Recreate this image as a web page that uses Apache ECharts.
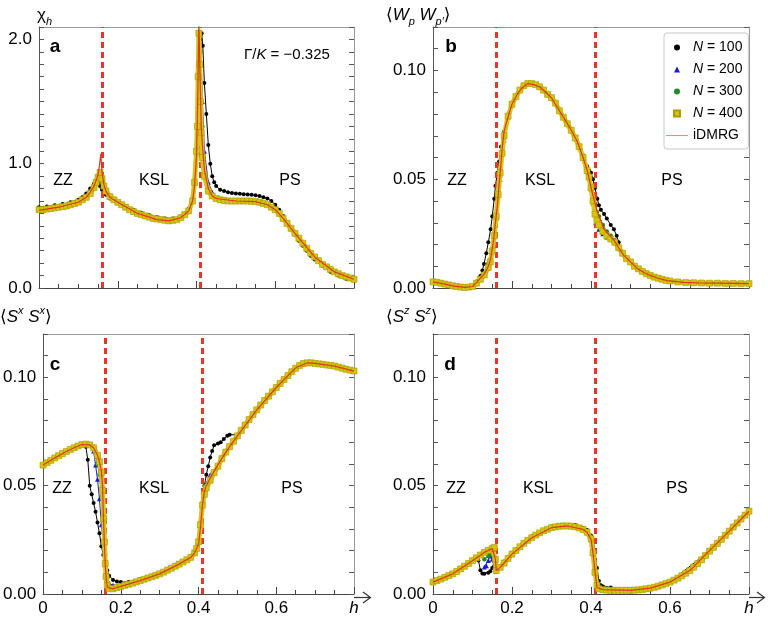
<!DOCTYPE html>
<html><head><meta charset="utf-8">
<script src="https://cdn.jsdelivr.net/npm/echarts@6/dist/echarts.min.js"></script>
<style>html,body{margin:0;padding:0;background:#fff}#c{width:768px;height:617px}</style>
</head><body><div id="c"></div>
<script>
const FONT = '"Liberation Sans", Arial, "DejaVu Sans", sans-serif';

// ---------- Panel a : chi_h ----------
const chiIdmrg = [[0,0.625],[0.05,0.65],[0.1,0.69],[0.12,0.73],[0.13,0.77],[0.14,0.82],[0.15,0.91],[0.154,1.0],[0.157,1.08],[0.16,0.93],[0.165,0.83],[0.17,0.78],[0.18,0.73],[0.2,0.69],[0.25,0.6],[0.3,0.55],[0.33,0.54],[0.36,0.565],[0.38,0.62],[0.39,0.7],[0.395,0.82],[0.4,1.06],[0.403,1.5],[0.406,2.15],[0.409,1.7],[0.412,1.3],[0.415,1.15],[0.42,0.95],[0.43,0.8],[0.44,0.74],[0.45,0.72],[0.5,0.7],[0.55,0.695],[0.58,0.67],[0.6,0.63],[0.62,0.56],[0.65,0.44],[0.7,0.25],[0.75,0.13],[0.8,0.07]];
const chiN400 = [[0,0.63],[0.01,0.63],[0.02,0.635],[0.03,0.64],[0.04,0.645],[0.05,0.65],[0.06,0.655],[0.07,0.66],[0.08,0.67],[0.09,0.68],[0.1,0.69],[0.11,0.71],[0.12,0.73],[0.13,0.76],[0.14,0.81],[0.145,0.85],[0.15,0.89],[0.155,0.93],[0.16,0.88],[0.165,0.82],[0.17,0.78],[0.18,0.735],[0.19,0.71],[0.2,0.69],[0.21,0.67],[0.22,0.65],[0.23,0.63],[0.24,0.615],[0.25,0.6],[0.26,0.59],[0.27,0.58],[0.28,0.57],[0.29,0.56],[0.3,0.555],[0.31,0.55],[0.32,0.545],[0.33,0.54],[0.34,0.545],[0.35,0.55],[0.36,0.565],[0.37,0.59],[0.38,0.62],[0.39,0.7],[0.395,0.85],[0.4,1.1],[0.402,1.3],[0.404,1.7],[0.406,2.05],[0.408,1.8],[0.41,1.5],[0.412,1.25],[0.415,1.05],[0.42,0.9],[0.43,0.78],[0.44,0.74],[0.45,0.72],[0.46,0.71],[0.47,0.705],[0.48,0.7],[0.49,0.7],[0.5,0.7],[0.51,0.7],[0.52,0.7],[0.53,0.7],[0.54,0.698],[0.55,0.695],[0.56,0.69],[0.57,0.68],[0.58,0.67],[0.59,0.65],[0.6,0.63],[0.61,0.6],[0.62,0.56],[0.63,0.52],[0.64,0.48],[0.65,0.44],[0.66,0.4],[0.67,0.36],[0.68,0.32],[0.69,0.28],[0.7,0.25],[0.71,0.22],[0.72,0.19],[0.73,0.17],[0.74,0.15],[0.75,0.13],[0.76,0.115],[0.77,0.1],[0.78,0.09],[0.79,0.08],[0.8,0.07]];
const chiN100 = [[0,0.65],[0.02,0.655],[0.04,0.665],[0.06,0.675],[0.08,0.69],[0.1,0.71],[0.11,0.73],[0.12,0.76],[0.13,0.8],[0.14,0.84],[0.145,0.86],[0.15,0.85],[0.155,0.82],[0.16,0.79],[0.17,0.75],[0.18,0.72],[0.2,0.69],[0.22,0.66],[0.24,0.63],[0.26,0.605],[0.28,0.585],[0.3,0.57],[0.32,0.56],[0.34,0.56],[0.36,0.575],[0.37,0.6],[0.38,0.64],[0.39,0.72],[0.395,0.85],[0.4,1.1],[0.405,1.5],[0.41,2.0],[0.413,2.05],[0.416,1.95],[0.42,1.65],[0.425,1.4],[0.43,1.15],[0.435,1.0],[0.44,0.9],[0.445,0.85],[0.45,0.82],[0.46,0.79],[0.47,0.78],[0.48,0.77],[0.49,0.765],[0.5,0.76],[0.51,0.758],[0.52,0.755],[0.53,0.752],[0.54,0.75],[0.55,0.746],[0.56,0.74],[0.57,0.73],[0.58,0.72],[0.59,0.7],[0.6,0.67],[0.61,0.63],[0.62,0.58],[0.63,0.53],[0.64,0.48],[0.65,0.43],[0.66,0.38],[0.67,0.34],[0.68,0.3],[0.69,0.26],[0.7,0.23],[0.72,0.18],[0.74,0.13],[0.76,0.1],[0.78,0.075],[0.8,0.06]];
const chiN200 = [[0.13,0.78],[0.14,0.83],[0.15,0.88],[0.155,0.87],[0.16,0.82],[0.17,0.77],['-','-'],[0.39,0.71],[0.4,1.1],[0.405,1.7],[0.41,2.05],[0.415,1.5],[0.42,1.1],[0.43,0.85],[0.44,0.77]];
const chiN300 = [[0.13,0.77],[0.14,0.82],[0.15,0.9],[0.155,0.9],[0.16,0.85],[0.17,0.78],['-','-'],[0.39,0.7],[0.4,1.1],[0.405,1.9],[0.41,1.9],[0.415,1.3],[0.42,0.95],[0.43,0.8],[0.44,0.75]];

// ---------- Panel b : <W_p W_p'> ----------
const wIdmrg = [[0,0.0028],[0.03,0.0018],[0.05,0.001],[0.08,0.0003],[0.1,0.0007],[0.11,0.0025],[0.12,0.0045],[0.13,0.0065],[0.14,0.01],[0.146,0.0134],[0.154,0.0227],[0.158,0.03],[0.163,0.038],[0.167,0.047],[0.171,0.055],[0.175,0.064],[0.18,0.072],[0.192,0.08],[0.2,0.0845],[0.213,0.089],[0.225,0.092],[0.24,0.094],[0.255,0.0935],[0.27,0.0925],[0.285,0.09],[0.3,0.0875],[0.315,0.083],[0.332,0.078],[0.35,0.0725],[0.365,0.0675],[0.38,0.06],[0.391,0.0536],[0.403,0.044],[0.41,0.039],[0.416,0.035],[0.425,0.031],[0.433,0.027],[0.445,0.0245],[0.458,0.022],[0.47,0.0185],[0.483,0.015],[0.5,0.012],[0.517,0.009],[0.535,0.007],[0.551,0.0057],[0.57,0.0045],[0.593,0.0034],[0.635,0.0026],[0.68,0.0023],[0.72,0.0022],[0.8,0.002]];
const wN400 = [[0,0.0028],[0.01,0.0026],[0.02,0.0022],[0.03,0.0018],[0.04,0.0014],[0.05,0.001],[0.06,0.0007],[0.07,0.0004],[0.08,0.0003],[0.09,0.0004],[0.1,0.0007],[0.11,0.0022],[0.12,0.004],[0.13,0.006],[0.14,0.0095],[0.145,0.012],[0.15,0.017],[0.155,0.024],[0.16,0.033],[0.165,0.043],[0.17,0.053],[0.175,0.062],[0.18,0.07],[0.19,0.079],[0.2,0.0845],[0.21,0.088],[0.22,0.091],[0.23,0.093],[0.24,0.094],[0.25,0.094],[0.26,0.0935],[0.27,0.0925],[0.28,0.091],[0.29,0.089],[0.3,0.0875],[0.31,0.085],[0.32,0.0815],[0.33,0.0785],[0.34,0.0755],[0.35,0.0725],[0.36,0.069],[0.37,0.065],[0.38,0.06],[0.39,0.054],[0.395,0.051],[0.4,0.046],[0.405,0.04],[0.41,0.034],[0.415,0.031],[0.42,0.029],[0.43,0.026],[0.44,0.024],[0.45,0.0225],[0.46,0.021],[0.47,0.0185],[0.48,0.016],[0.49,0.0135],[0.5,0.012],[0.51,0.01],[0.52,0.0088],[0.53,0.0076],[0.54,0.0066],[0.55,0.0058],[0.56,0.005],[0.57,0.0045],[0.58,0.004],[0.59,0.0035],[0.6,0.0032],[0.62,0.0028],[0.64,0.0025],[0.66,0.0024],[0.68,0.0023],[0.7,0.0022],[0.72,0.0022],[0.74,0.0021],[0.76,0.0021],[0.78,0.002],[0.8,0.002]];
const wN100 = [[0,0.0028],[0.04,0.0014],[0.08,0.0003],[0.1,0.001],[0.11,0.003],[0.12,0.0055],[0.125,0.008],[0.129,0.011],[0.135,0.016],[0.14,0.021],[0.146,0.027],[0.15,0.033],[0.155,0.041],[0.158,0.047],[0.163,0.053],[0.167,0.058],[0.172,0.065],[0.18,0.072],[0.19,0.079],[0.2,0.0845],[0.22,0.091],[0.24,0.094],[0.26,0.0935],[0.28,0.091],[0.3,0.0875],[0.32,0.0818],[0.34,0.0758],[0.36,0.0692],[0.38,0.061],[0.39,0.056],[0.395,0.054],[0.4,0.053],[0.405,0.05],[0.41,0.046],[0.416,0.041],[0.42,0.038],[0.425,0.036],[0.433,0.034],[0.44,0.032],[0.45,0.029],[0.458,0.027],[0.465,0.024],[0.47,0.021],[0.48,0.0165],[0.5,0.0118],[0.52,0.0086],[0.54,0.0065],[0.56,0.005],[0.6,0.0031],[0.65,0.0025],[0.7,0.0022],[0.8,0.002]];
const wN200 = [[0.14,0.012],[0.15,0.019],[0.16,0.032],[0.17,0.05],[0.18,0.068],['-','-'],[0.39,0.054],[0.4,0.047],[0.405,0.039],[0.408,0.036],[0.412,0.03],[0.42,0.027],[0.43,0.025],[0.44,0.0235],[0.45,0.0225],[0.46,0.021]];
const wN300 = [[0.14,0.011],[0.15,0.018],[0.16,0.032],[0.17,0.051],[0.18,0.069],['-','-'],[0.39,0.054],[0.4,0.047],[0.405,0.041],[0.41,0.038],[0.415,0.035],[0.42,0.033],[0.43,0.029],[0.44,0.026],[0.45,0.024],[0.46,0.022]];

// ---------- Panel c : <S^x S^x> ----------
const sxIdmrg = [[0,0.0595],[0.02,0.0617],[0.04,0.0638],[0.06,0.0658],[0.08,0.0675],[0.1,0.069],[0.12,0.0688],[0.13,0.0675],[0.14,0.064],[0.145,0.061],[0.15,0.0566],[0.153,0.05],[0.155,0.0367],[0.158,0.022],[0.16,0.0138],[0.163,0.006],[0.166,0.003],[0.17,0.0025],[0.18,0.0024],[0.2,0.0035],[0.25,0.0062],[0.3,0.0093],[0.35,0.0138],[0.38,0.0169],[0.39,0.019],[0.4,0.023],[0.405,0.0306],[0.41,0.041],[0.415,0.0474],[0.42,0.05],[0.43,0.0535],[0.44,0.0566],[0.46,0.0626],[0.48,0.068],[0.5,0.073],[0.55,0.085],[0.6,0.0953],[0.65,0.1044],[0.68,0.1067],[0.7,0.1064],[0.75,0.1052],[0.8,0.1029]];
const sxN400 = [[0,0.0595],[0.01,0.0606],[0.02,0.0617],[0.03,0.0628],[0.04,0.0638],[0.05,0.0648],[0.06,0.0658],[0.07,0.0667],[0.08,0.0675],[0.09,0.0683],[0.1,0.069],[0.11,0.0692],[0.12,0.0688],[0.13,0.0675],[0.14,0.064],[0.145,0.061],[0.15,0.056],[0.153,0.048],[0.156,0.035],[0.158,0.024],[0.16,0.014],[0.162,0.008],[0.165,0.004],[0.17,0.0025],[0.18,0.0024],[0.19,0.003],[0.2,0.0035],[0.21,0.004],[0.22,0.0045],[0.23,0.005],[0.24,0.0056],[0.25,0.0062],[0.26,0.0068],[0.27,0.0074],[0.28,0.008],[0.29,0.0086],[0.3,0.0093],[0.31,0.0101],[0.32,0.011],[0.33,0.0119],[0.34,0.0128],[0.35,0.0138],[0.36,0.0148],[0.37,0.0158],[0.38,0.0169],[0.39,0.019],[0.395,0.021],[0.4,0.024],[0.405,0.032],[0.41,0.041],[0.415,0.046],[0.42,0.049],[0.43,0.0525],[0.44,0.056],[0.45,0.059],[0.46,0.0625],[0.47,0.0655],[0.48,0.068],[0.49,0.0705],[0.5,0.073],[0.51,0.0755],[0.52,0.078],[0.53,0.0805],[0.54,0.0828],[0.55,0.085],[0.56,0.0872],[0.57,0.0893],[0.58,0.0913],[0.59,0.0933],[0.6,0.0953],[0.61,0.0972],[0.62,0.099],[0.63,0.1008],[0.64,0.1026],[0.65,0.1042],[0.66,0.1055],[0.67,0.1064],[0.68,0.1067],[0.69,0.1067],[0.7,0.1064],[0.71,0.1062],[0.72,0.106],[0.73,0.1057],[0.74,0.1055],[0.75,0.1052],[0.76,0.1047],[0.77,0.1042],[0.78,0.1037],[0.79,0.1033],[0.8,0.1029]];
const sxN100 = [[0,0.0595],[0.04,0.0638],[0.08,0.0675],[0.1,0.069],[0.11,0.068],[0.115,0.062],[0.12,0.05],[0.125,0.046],[0.13,0.042],[0.135,0.038],[0.14,0.033],[0.145,0.028],[0.15,0.022],[0.155,0.018],[0.16,0.0145],[0.165,0.011],[0.17,0.0084],[0.18,0.0065],[0.19,0.0058],[0.2,0.0055],[0.22,0.0055],[0.25,0.0068],[0.3,0.0097],[0.35,0.0142],[0.38,0.0175],[0.39,0.0195],[0.4,0.024],[0.405,0.032],[0.41,0.042],[0.415,0.05],[0.42,0.055],[0.425,0.059],[0.43,0.063],[0.435,0.066],[0.44,0.0686],[0.45,0.0695],[0.457,0.07],[0.465,0.0715],[0.474,0.073],[0.48,0.0735],[0.5,0.0735],[0.55,0.085],[0.6,0.0953],[0.65,0.1044],[0.7,0.1064],[0.75,0.1052],[0.8,0.1029]];
const sxN200 = [[0.12,0.0685],[0.13,0.066],[0.135,0.0595],[0.14,0.053],[0.145,0.044],[0.15,0.032],[0.155,0.023],[0.16,0.0135],[0.165,0.0084],[0.17,0.005],[0.18,0.004],[0.2,0.004],['-','-'],[0.39,0.019],[0.4,0.024],[0.405,0.033],[0.41,0.042],[0.415,0.048],[0.42,0.051],[0.43,0.055]];
const sxN300 = [[0.12,0.0687],[0.13,0.067],[0.14,0.06],[0.145,0.055],[0.15,0.045],[0.155,0.033],[0.16,0.018],[0.165,0.008],[0.17,0.004],[0.18,0.003],['-','-'],[0.39,0.019],[0.4,0.024],[0.405,0.032],[0.41,0.041],[0.415,0.047],[0.42,0.05],[0.43,0.053]];

// ---------- Panel d : <S^z S^z> ----------
const szIdmrg = [[0,0.0055],[0.05,0.0093],[0.1,0.0154],[0.13,0.0192],[0.15,0.021],[0.155,0.0215],[0.158,0.016],[0.16,0.0108],[0.17,0.0123],[0.18,0.0143],[0.2,0.0184],[0.25,0.026],[0.3,0.0306],[0.34,0.0314],[0.38,0.0298],[0.39,0.0285],[0.4,0.0253],[0.405,0.019],[0.41,0.011],[0.415,0.003],[0.43,0.002],[0.5,0.0017],[0.55,0.0027],[0.6,0.0055],[0.65,0.0108],[0.7,0.02],[0.75,0.029],[0.8,0.0382]];
const szN400 = [[0,0.0055],[0.01,0.0062],[0.02,0.0069],[0.03,0.0077],[0.04,0.0085],[0.05,0.0093],[0.06,0.0104],[0.07,0.0116],[0.08,0.0128],[0.09,0.0141],[0.1,0.0154],[0.11,0.0167],[0.12,0.018],[0.13,0.0192],[0.14,0.0202],[0.15,0.021],[0.155,0.0215],[0.158,0.016],[0.16,0.0108],[0.17,0.0123],[0.18,0.0143],[0.19,0.0164],[0.2,0.0184],[0.21,0.0201],[0.22,0.0218],[0.23,0.0234],[0.24,0.0248],[0.25,0.026],[0.26,0.0272],[0.27,0.0282],[0.28,0.0292],[0.29,0.0299],[0.3,0.0306],[0.31,0.031],[0.32,0.0313],[0.33,0.0314],[0.34,0.0314],[0.35,0.0313],[0.36,0.031],[0.37,0.0305],[0.38,0.0298],[0.39,0.0285],[0.4,0.0255],[0.405,0.019],[0.41,0.01],[0.415,0.004],[0.42,0.0025],[0.43,0.002],[0.44,0.0018],[0.45,0.0017],[0.46,0.0017],[0.47,0.0017],[0.48,0.0017],[0.49,0.0017],[0.5,0.0017],[0.51,0.0018],[0.52,0.0019],[0.53,0.0021],[0.54,0.0024],[0.55,0.0027],[0.56,0.0031],[0.57,0.0036],[0.58,0.0042],[0.59,0.0048],[0.6,0.0055],[0.61,0.0064],[0.62,0.0073],[0.63,0.0084],[0.64,0.0096],[0.65,0.0108],[0.66,0.0124],[0.67,0.014],[0.68,0.0158],[0.69,0.0178],[0.7,0.0198],[0.71,0.0216],[0.72,0.0234],[0.73,0.0252],[0.74,0.0271],[0.75,0.029],[0.76,0.0309],[0.77,0.0328],[0.78,0.0346],[0.79,0.0364],[0.8,0.0382]];
const szN100 = [[0,0.0055],[0.05,0.0093],[0.1,0.0154],[0.11,0.0165],[0.115,0.0155],[0.12,0.011],[0.125,0.0095],[0.13,0.0093],[0.14,0.0098],[0.145,0.0105],[0.15,0.012],[0.155,0.013],[0.16,0.012],[0.17,0.0128],[0.18,0.015],[0.2,0.019],[0.25,0.0265],[0.3,0.0312],[0.33,0.032],[0.36,0.0318],[0.38,0.0305],[0.39,0.0295],[0.4,0.027],[0.405,0.025],[0.41,0.02],[0.415,0.012],[0.42,0.006],[0.425,0.004],[0.43,0.0035],[0.45,0.003],[0.5,0.002],[0.55,0.0028],[0.6,0.0055],[0.7,0.02],[0.8,0.0382]];
const szN200 = [[0.13,0.0125],[0.135,0.013],[0.14,0.0155],[0.145,0.0175],[0.15,0.016],[0.155,0.0125],[0.16,0.0115],[0.17,0.0125],['-','-'],[0.39,0.0288],[0.4,0.026],[0.405,0.021],[0.41,0.013],[0.415,0.006],[0.42,0.003],[0.43,0.002]];
const szN300 = [[0.13,0.016],[0.14,0.0175],[0.145,0.0185],[0.15,0.0185],[0.155,0.015],[0.16,0.011],[0.17,0.0123],['-','-'],[0.39,0.0287],[0.4,0.0258],[0.405,0.02],[0.41,0.012],[0.415,0.005],[0.42,0.0027],[0.43,0.002]];

// phase boundaries and labels
const boundaries = [0.157, 0.408];
const seriesNames = ['N = 100', 'N = 200', 'N = 300', 'N = 400', 'iDMRG'];
const xTickLabels = {0: '0', 0.2: '0.2', 0.4: '0.4', 0.6: '0.6', 0.8: 'h'};

const panels = [
  {grid: {left: 39, top: 27, width: 315, height: 261}, yMax: 2.1, yInt: 0.1, yLab: 1.0, yDig: 1, showX: false,
   data: [chiN100, chiN200, chiN300, chiN400, chiIdmrg]},
  {grid: {left: 433, top: 27, width: 316, height: 261}, yMax: 0.12, yInt: 0.01, yLab: 0.05, yDig: 2, showX: false,
   data: [wN100, wN200, wN300, wN400, wIdmrg]},
  {grid: {left: 39, top: 334, width: 315, height: 263}, yMax: 0.12, yInt: 0.01, yLab: 0.05, yDig: 2, showX: true,
   data: [sxN100, sxN200, sxN300, sxN400, sxIdmrg]},
  {grid: {left: 433, top: 334, width: 316, height: 263}, yMax: 0.12, yInt: 0.01, yLab: 0.05, yDig: 2, showX: true,
   data: [szN100, szN200, szN300, szN400, szIdmrg]}
];

const styles = [
  {z: 2, symbol: 'circle', symbolSize: 4, itemStyle: {color: '#000'}, lineStyle: {color: '#000', width: 1}},
  {z: 3, symbol: 'triangle', symbolSize: 5, itemStyle: {color: '#1a1ad6'}, lineStyle: {color: '#1a1ad6', width: 1}},
  {z: 4, symbol: 'circle', symbolSize: 4.5, itemStyle: {color: '#1f8a2c'}, lineStyle: {color: '#1f8a2c', width: 1}},
  {z: 5, symbol: 'rect', symbolSize: 6, itemStyle: {color: '#d3c50a', borderColor: '#a99b00', borderWidth: 0.6}, lineStyle: {color: '#d6c81a', width: 5}},
  {z: 6, symbol: 'none', lineStyle: {color: '#e2351f', width: 1.2}}
];

const grids = [], xAxes = [], yAxes = [], series = [];
panels.forEach((p, i) => {
  grids.push(Object.assign({containLabel: false}, p.grid));
  xAxes.push({
    gridIndex: i, type: 'value', min: 0, max: 0.8, interval: 0.2, position: 'bottom',
    axisLine: {show: true, onZero: false, lineStyle: {color: '#444', width: 1}},
    axisTick: {show: true, inside: true, length: 7, lineStyle: {color: '#444'}},
    minorTick: {show: true, splitNumber: 4, length: 4, lineStyle: {color: '#444'}},
    splitLine: {show: false}, minorSplitLine: {show: false},
    axisLabel: {show: p.showX, margin: 6, fontSize: 17, color: '#000', fontFamily: FONT,
      formatter: v => {
        const k = Object.keys(xTickLabels).find(t => Math.abs(+t - v) < 1e-6);
        const s = k !== undefined ? xTickLabels[k] : '';
        return s === 'h' ? '{h|h}' : s;
      },
      rich: {h: {fontStyle: 'italic', fontSize: 17, fontFamily: FONT, color: '#000'}}}
  });
  xAxes.push({
    gridIndex: i, type: 'value', min: 0, max: 0.8, position: 'top',
    axisLine: {show: true, onZero: false, lineStyle: {color: '#999'}},
    axisTick: {show: false}, axisLabel: {show: false}, splitLine: {show: false}
  });
  const yFmt = v => (Math.abs(v / p.yLab - Math.round(v / p.yLab)) < 1e-6) ? v.toFixed(p.yDig) : '';
  yAxes.push({
    gridIndex: i, type: 'value', min: 0, max: p.yMax, interval: p.yInt, position: 'left',
    axisLine: {show: true, onZero: false, lineStyle: {color: '#555'}},
    axisTick: {show: true, inside: true, length: 5, lineStyle: {color: '#555'}},
    splitLine: {show: false},
    axisLabel: {show: true, formatter: yFmt, margin: 7, fontSize: 17, color: '#000', fontFamily: FONT}
  });
  yAxes.push({
    gridIndex: i, type: 'value', min: 0, max: p.yMax, interval: p.yInt, position: 'right',
    axisLine: {show: true, onZero: false, lineStyle: {color: '#999'}},
    axisTick: {show: true, inside: true, length: 5, lineStyle: {color: '#555'}},
    splitLine: {show: false}, axisLabel: {show: false}
  });
  p.data.forEach((d, k) => {
    const s = Object.assign({
      type: 'line', name: seriesNames[k], data: d, xAxisIndex: 2 * i, yAxisIndex: 2 * i,
      animation: false, silent: true, connectNulls: false, showSymbol: k !== 4
    }, JSON.parse(JSON.stringify(styles[k])));
    if (k === 4) {
      s.markLine = {
        silent: true, symbol: ['none', 'none'], label: {show: false}, animation: false,
        lineStyle: {color: '#e5372a', width: 3, type: [6, 4]},
        data: boundaries.map(b => ({xAxis: b}))
      };
    }
    series.push(s);
  });
});

function txt(x, y, text, extra) {
  return {type: 'text', x: x, y: y, silent: true, z: 100,
    style: Object.assign({text: text, fill: '#000', fontFamily: FONT, fontSize: 16, align: 'center', verticalAlign: 'middle'}, extra || {})};
}
const rich = {
  b: {fontSize: 17, fontFamily: FONT, lineHeight: 24, verticalAlign: 'middle'},
  i: {fontSize: 17, fontFamily: FONT, fontStyle: 'italic', lineHeight: 24, verticalAlign: 'middle'},
  sub: {fontSize: 11, fontFamily: FONT, fontStyle: 'italic', lineHeight: 12, verticalAlign: 'bottom'},
  sup: {fontSize: 11, fontFamily: FONT, fontStyle: 'italic', lineHeight: 12, verticalAlign: 'top'}
};
const graphics = [
  txt(37, 15, '{b|χ}{sub|h}', {align: 'left', rich}),
  txt(386, 15, '{b|⟨}{i|W}{sub|p}{b| }{i|W}{sub|p′}{b|⟩}', {align: 'left', rich}),
  txt(0, 317, '{b|⟨}{i|S}{sup|x}{b| }{i|S}{sup|x}{b|⟩}', {align: 'left', rich}),
  txt(386, 317, '{b|⟨}{i|S}{sup|z}{b| }{i|S}{sup|z}{b|⟩}', {align: 'left', rich}),
  txt(55, 47, 'a', {fontWeight: 'bold', fontSize: 19}),
  txt(451, 47, 'b', {fontWeight: 'bold', fontSize: 19}),
  txt(55, 365, 'c', {fontWeight: 'bold', fontSize: 19}),
  txt(450, 365, 'd', {fontWeight: 'bold', fontSize: 19}),
  txt(244, 55, '{n|Γ/}{k|K}{n| = −0.325}', {align: 'left', rich: {
    n: {fontSize: 15, fontFamily: FONT}, k: {fontSize: 15, fontFamily: FONT, fontStyle: 'italic'}}}),
  txt(63, 181, 'ZZ'), txt(154, 181, 'KSL'), txt(290, 181, 'PS'),
  txt(457, 181, 'ZZ'), txt(540, 181, 'KSL'), txt(672, 181, 'PS'),
  txt(62, 489, 'ZZ'), txt(154, 489, 'KSL'), txt(292, 489, 'PS'),
  txt(456, 489, 'ZZ'), txt(538, 489, 'KSL'), txt(677, 489, 'PS'),
  // axis arrows for the bottom panels
  {type: 'line', silent: true, shape: {x1: 354, y1: 597.5, x2: 370, y2: 597.5}, style: {stroke: '#333', lineWidth: 1.2}},
  {type: 'polyline', silent: true, shape: {points: [[363, 592], [370.5, 597.5], [363, 603]]}, style: {stroke: '#333', lineWidth: 1.2, fill: null}},
  {type: 'line', silent: true, shape: {x1: 749, y1: 597.5, x2: 764, y2: 597.5}, style: {stroke: '#333', lineWidth: 1.2}},
  {type: 'polyline', silent: true, shape: {points: [[757, 592], [764.5, 597.5], [757, 603]]}, style: {stroke: '#333', lineWidth: 1.2, fill: null}}
];

const chart = echarts.init(document.getElementById('c'), null, {renderer: 'canvas'});
chart.setOption({
  animation: false,
  backgroundColor: '#fff',
  grid: grids, xAxis: xAxes, yAxis: yAxes, series: series,
  legend: {
    left: 664, top: 33, orient: 'vertical', selectedMode: false, z: 20,
    backgroundColor: '#fff', borderColor: '#c8c8c8', borderWidth: 1, borderRadius: 3,
    padding: [6, 6, 5, 2], itemWidth: 22, itemHeight: 6, itemGap: 5,
    textStyle: {fontFamily: FONT, fontSize: 14, color: '#000', lineHeight: 17,
      rich: {i: {fontStyle: 'italic', fontSize: 14, fontFamily: FONT, color: '#000'},
             n: {fontSize: 14, fontFamily: FONT, color: '#000'}}},
    formatter: name => name.charAt(0) === 'N' ? '{i|N}{n|' + name.slice(1) + '}' : '{n|' + name + '}',
    data: [
      {name: 'N = 100', icon: 'circle', itemStyle: {color: '#000'}},
      {name: 'N = 200', icon: 'path://M5,0L10,10H0Z', itemStyle: {color: '#1a1ad6'}},
      {name: 'N = 300', icon: 'circle', itemStyle: {color: '#1f8a2c'}},
      {name: 'N = 400', icon: 'path://M0,0H10V10H0Z', itemStyle: {color: '#d3c50a'}},
      {name: 'iDMRG', icon: 'path://M0,0H40V2H0Z', itemStyle: {color: '#f0868a'}}
    ]
  },
  graphic: graphics
});
</script>
</body></html>
